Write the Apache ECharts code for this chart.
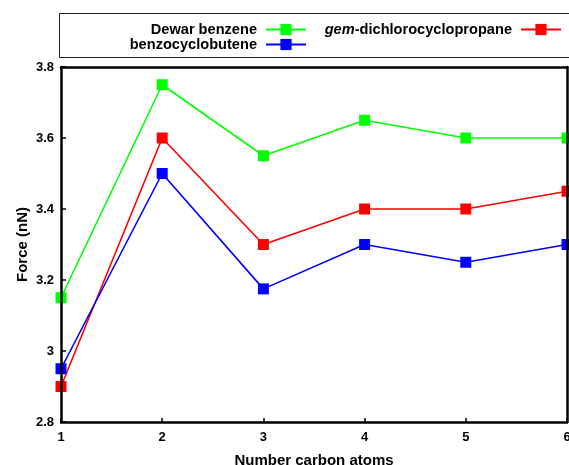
<!DOCTYPE html>
<html>
<head>
<meta charset="utf-8">
<script src="https://cdn.jsdelivr.net/npm/echarts@6/dist/echarts.min.js"></script>
<style>
  html, body { margin: 0; padding: 0; background: #fff; }
  #chart { width: 569px; height: 465px; }
</style>
</head>
<body>
<div id="chart"></div>
<script>
// Number of carbon atoms in the linker
const carbonAtoms = [1, 2, 3, 4, 5, 6];

// Rupture force (nN) for each mechanophore
const dewarBenzene = [3.15, 3.75, 3.55, 3.65, 3.6, 3.6];
const gemDichlorocyclopropane = [2.9, 3.6, 3.3, 3.4, 3.4, 3.45];
const benzocyclobutene = [2.95, 3.5, 3.175, 3.3, 3.25, 3.3];

// Axis ranges and tick spacing
const xRange = [1, 6];
const xStep = 1;
const yRange = [2.8, 3.8];
const yStep = 0.2;

const names = {
  dewar: 'Dewar benzene',
  gem: 'gem-dichlorocyclopropane',
  benzo: 'benzocyclobutene'
};

const FONT = '"Liberation Sans", Arial, Helvetica, sans-serif';
const LEGEND_FONT_SIZE = 14.6;

function pairs(ys) {
  return carbonAtoms.map((x, i) => [x, ys[i]]);
}

function lineSeries(name, values, color) {
  return {
    name: name,
    type: 'line',
    data: pairs(values),
    symbol: 'rect',
    symbolSize: 11,
    lineStyle: { color: color, width: 1.6 },
    itemStyle: { color: color },
    clip: true,
    animation: false
  };
}

function legendItem(name, pos, extraText) {
  return Object.assign({
    data: [name],
    orient: 'horizontal',
    align: 'right',
    padding: 0,
    itemWidth: 40,
    itemHeight: 14,
    selectedMode: false,
    textStyle: Object.assign({
      fontFamily: FONT,
      fontWeight: 'bold',
      fontSize: LEGEND_FONT_SIZE,
      color: '#000',
      padding: [0, 4, 0, 0]
    }, extraText || {})
  }, pos);
}

const chart = echarts.init(document.getElementById('chart'), null, { renderer: 'canvas' });

// Top and right edges of the plot frame
const frameAxis = {
  axisLine: { show: true, lineStyle: { color: '#000', width: 2.5 } },
  axisTick: { show: false },
  axisLabel: { show: false },
  splitLine: { show: false },
  z: 5
};

chart.setOption({
  backgroundColor: '#fff',
  animation: false,
  grid: { left: 61, right: 2, top: 67, bottom: 43, containLabel: false, outerBoundsMode: 'none' },
  graphic: [{
    type: 'rect',
    shape: { x: 59.5, y: 13.5, width: 520, height: 44 },
    style: { fill: 'none', stroke: '#222', lineWidth: 1 },
    silent: true
  }],
  legend: [
    legendItem(names.dewar, { right: 262, top: 22 }),
    legendItem(names.benzo, { right: 262, top: 37 }),
    legendItem(names.gem, { right: 7, top: 22 }, {
      rich: {
        i: { fontFamily: FONT, fontWeight: 'bold', fontStyle: 'italic', fontSize: LEGEND_FONT_SIZE, color: '#000' },
        b: { fontFamily: FONT, fontWeight: 'bold', fontSize: LEGEND_FONT_SIZE, color: '#000' }
      }
    })
  ],
  xAxis: [{
    type: 'value',
    min: xRange[0],
    max: xRange[1],
    interval: xStep,
    name: 'Number carbon atoms',
    nameLocation: 'middle',
    nameGap: 31,
    nameTextStyle: { fontFamily: FONT, fontWeight: 'bold', fontSize: 15, color: '#000' },
    axisLine: { show: true, lineStyle: { color: '#000', width: 2.5 } },
    axisTick: { show: true, inside: true, length: 4, lineStyle: { color: '#000', width: 1.5 } },
    axisLabel: { fontFamily: FONT, fontWeight: 'bold', fontSize: 13, color: '#000', margin: 9 },
    splitLine: { show: false },
    z: 5
  }, Object.assign({
    type: 'value', position: 'top', min: xRange[0], max: xRange[1], interval: xStep
  }, frameAxis)],
  yAxis: [{
    type: 'value',
    min: yRange[0],
    max: yRange[1],
    interval: yStep,
    name: 'Force (nN)',
    nameLocation: 'middle',
    nameGap: 31,
    nameRotate: 90,
    nameMoveOverlap: false,
    nameTextStyle: { fontFamily: FONT, fontWeight: 'bold', fontSize: 15, color: '#000' },
    axisLine: { show: true, lineStyle: { color: '#000', width: 2.5 } },
    axisTick: { show: true, inside: true, length: 5, lineStyle: { color: '#000', width: 1.5 } },
    axisLabel: {
      fontFamily: FONT, fontWeight: 'bold', fontSize: 13, color: '#000', margin: 7,
      formatter: v => String(Number(v.toFixed(2)))
    },
    splitLine: { show: false },
    z: 5
  }, Object.assign({
    type: 'value', position: 'right', min: yRange[0], max: yRange[1], interval: yStep
  }, frameAxis)],
  series: [
    lineSeries(names.dewar, dewarBenzene, '#00ff00'),
    lineSeries(names.gem, gemDichlorocyclopropane, '#ff0000'),
    lineSeries(names.benzo, benzocyclobutene, '#0000ff')
  ]
});

// Italicise the "gem" prefix in its legend entry
chart.setOption({
  legend: [{}, {}, {
    formatter: n => n === names.gem ? '{i|gem}{b|-dichlorocyclopropane}' : n
  }]
});
</script>
</body>
</html>
